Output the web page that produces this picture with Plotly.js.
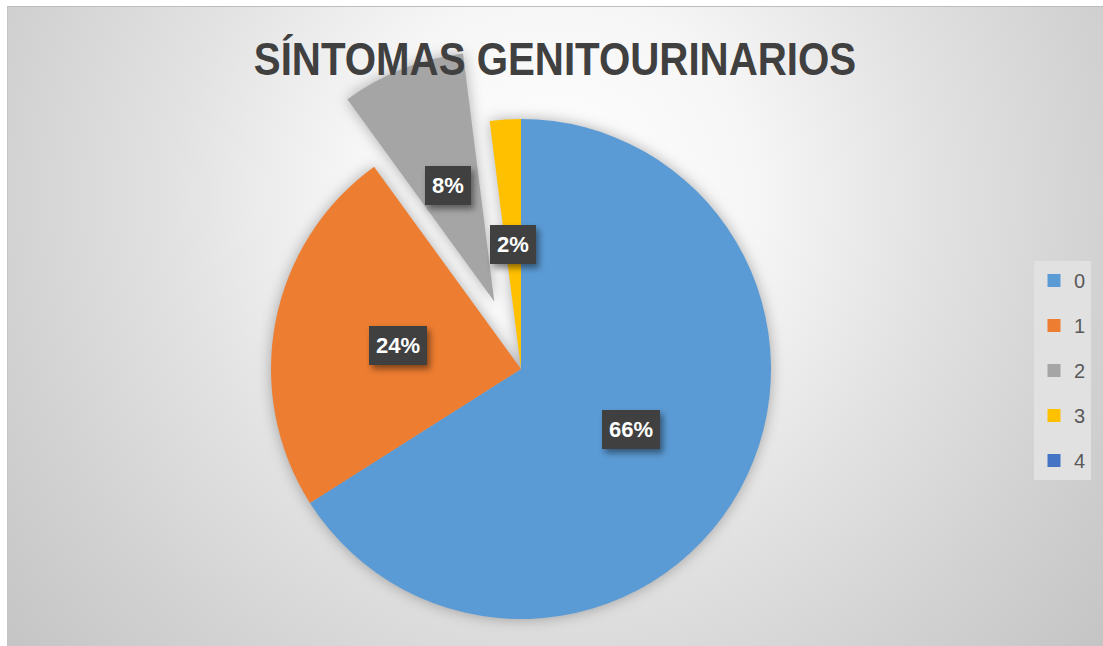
<!DOCTYPE html>
<html>
<head>
<meta charset="utf-8">
<script src="https://cdn.plot.ly/plotly-3.0.1.min.js"></script>
<style>
  html, body { margin: 0; padding: 0; background: #ffffff; overflow: hidden; }
  #wrap { position: relative; width: 1103px; height: 646px; }
  #bg {
    position: absolute; left: 7px; top: 6px; right: 0; bottom: 0;
    border-top: 1px solid #bdbdbd; border-left: 1px solid #c4c4c4;
    background: radial-gradient(circle at 545px 190px, #ffffff 0px, #f6f6f6 200px, #e2e2e2 380px, #d2d2d2 550px, #c2c2c2 740px);
  }
  #chart { position: absolute; left: 0; top: 0; width: 1103px; height: 646px; }
  .pielayer .trace { filter: drop-shadow(0px 0px 7px rgba(0,0,0,0.30)); }
  .annotation rect.bg { filter: drop-shadow(3px 4px 3px rgba(0,0,0,0.45)); }
  .gtitle { transform-box: fill-box; transform-origin: center; transform: scaleX(0.875); }
</style>
</head>
<body>
<div id="wrap">
  <div id="bg"></div>
  <div id="chart"></div>
</div>
<script>
// ---- data ----
const categories = ['0', '1', '2', '3', '4'];
const counts = [33, 12, 4, 1, 0];
const sliceColors = ['#5B9BD5', '#ED7D31', '#A5A5A5', '#FFC000', '#4472C4'];
const pulled = [false, false, true, false, false];
const chartTitle = 'SÍNTOMAS GENITOURINARIOS';

// ---- layout constants ----
const W = 1103, H = 646;
const CX = 521, CY = 369, R = 250;   // pie centre and radius (px)
const PULL = 0.29;                   // pull distance as fraction of radius
const LABEL_R = 0.5;                 // label distance as fraction of radius

const total = counts.reduce((a, b) => a + b, 0);

// mid-angle (clockwise from 12 o'clock) of each slice
let cum = 0;
const mids = counts.map(v => { const m = (cum + v / 2) / total * 2 * Math.PI; cum += v; return m; });

function domainFor(cx, cy) {
  return { x: [(cx - R) / W, (cx + R) / W], y: [1 - (cy + R) / H, 1 - (cy - R) / H] };
}

const traces = [];
const annotations = [];

// main pie (pulled slices transparent)
traces.push({
  type: 'pie', labels: categories, values: counts, sort: false,
  direction: 'clockwise', rotation: 0, textinfo: 'none', hoverinfo: 'label+value+percent',
  marker: { colors: sliceColors.map((c, i) => pulled[i] ? 'rgba(0,0,0,0)' : c), line: { width: 0 } },
  domain: domainFor(CX, CY), showlegend: false
});

categories.forEach((cat, i) => {
  const dx = Math.sin(mids[i]), dy = -Math.cos(mids[i]);
  let cx = CX, cy = CY;
  if (pulled[i]) {
    cx = CX + PULL * R * dx; cy = CY + PULL * R * dy;
    traces.push({
      type: 'pie', labels: categories, values: counts, sort: false,
      direction: 'clockwise', rotation: 0, textinfo: 'none', hoverinfo: 'label+value+percent',
      marker: { colors: sliceColors.map((c, j) => j === i ? c : 'rgba(0,0,0,0)'), line: { width: 0 } },
      domain: domainFor(cx, cy), showlegend: false
    });
  }
  if (counts[i] > 0) {
    annotations.push({
      xref: 'paper', yref: 'paper',
      x: (cx + LABEL_R * R * dx) / W, y: 1 - (cy + LABEL_R * R * dy) / H,
      xanchor: 'center', yanchor: 'middle', showarrow: false,
      text: Math.round(counts[i] / total * 100) + '%',
      font: { family: 'Liberation Sans, Arial, sans-serif', size: 22, color: '#ffffff', weight: 'bold' },
      bgcolor: '#404040', borderpad: 7, borderwidth: 0
    });
  }
});

// legend entries
categories.forEach((cat, i) => {
  traces.push({
    type: 'scatter', mode: 'markers', x: [null], y: [null], name: cat,
    legendgroup: 'g' + i, showlegend: true,
    marker: { symbol: 'square', size: 13, color: sliceColors[i] }, hoverinfo: 'skip'
  });
});

const layout = {
  width: W, height: H,
  margin: { l: 0, r: 0, t: 0, b: 0 },
  paper_bgcolor: 'rgba(0,0,0,0)', plot_bgcolor: 'rgba(0,0,0,0)',
  title: {
    text: chartTitle, x: 555 / W, xanchor: 'center', y: 1 - 59 / H, yanchor: 'middle', yref: 'container',
    font: { family: 'Liberation Sans, Arial, sans-serif', size: 46, color: '#404040', weight: 'bold' }
  },
  xaxis: { visible: false, range: [0, 1] },
  yaxis: { visible: false, range: [0, 1] },
  showlegend: true,
  legend: {
    x: 1034 / W, xanchor: 'left', y: 1 - 261 / H, yanchor: 'top',
    bgcolor: '#e1e1e1', borderwidth: 0, tracegroupgap: 16, itemwidth: 30,
    font: { family: 'Liberation Sans, Arial, sans-serif', size: 20, color: '#595959' }
  },
  annotations: annotations
};

Plotly.newPlot('chart', traces, layout, { displayModeBar: false, staticPlot: true });
</script>
</body>
</html>
